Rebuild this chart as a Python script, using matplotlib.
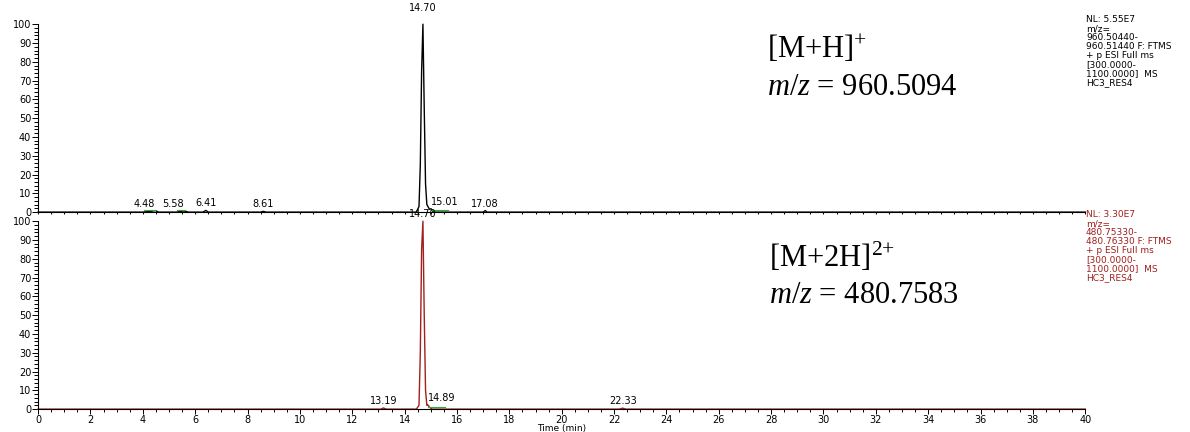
import matplotlib.pyplot as plt
from matplotlib.ticker import MultipleLocator

plt.rcParams["font.family"] = ["DejaVu Sans"]
plt.rcParams["mathtext.fontset"] = "custom"
plt.rcParams["mathtext.rm"] = "Liberation Serif"
plt.rcParams["mathtext.it"] = "Liberation Serif:italic"

# top trace: m/z 960.5094 extracted ion chromatogram
top_time = [0, 4.0, 4.3, 4.48, 4.6, 5.3, 5.45, 5.58, 5.75, 6.3, 6.41, 6.5,
            8.5, 8.61, 8.7, 14.45, 14.55, 14.60, 14.65, 14.70, 14.75, 14.80,
            14.85, 14.95, 15.01, 15.1, 17.0, 17.08, 17.15, 40]
top_int = [0, 0, 0.4, 0.8, 0, 0, 0.4, 0.6, 0, 0, 0.9, 0,
           0, 0.4, 0, 0, 3, 25, 75, 100, 55, 15,
           4, 1.5, 1.8, 0, 0, 0.8, 0, 0]

# bottom trace: m/z 480.7583
bot_time = [0, 13.1, 13.19, 13.3, 14.45, 14.55, 14.60, 14.65, 14.70, 14.75,
            14.80, 14.85, 14.89, 14.95, 15.05, 22.2, 22.33, 22.45, 40]
bot_int = [0, 0, 0.6, 0, 0, 2, 30, 85, 100, 50,
           10, 2, 2.2, 1, 0, 0, 0.5, 0, 0]

top_labels = ["4.48", "5.58", "6.41", "8.61", "14.70", "15.01", "17.08"]
top_label_t = [4.48, 5.58, 6.41, 8.61, 14.70, 15.01, 17.08]
top_label_h = [0.8, 0.6, 0.9, 0.4, 100, 1.8, 0.8]
top_label_ha = ["right", "right", "center", "center", "center", "left", "center"]
top_green = [(4.03, 4.48), (5.3, 5.6), (15.01, 15.65)]

bot_labels = ["13.19", "14.70", "14.89", "22.33"]
bot_label_t = [13.19, 14.70, 14.89, 22.33]
bot_label_h = [0.6, 100, 2.2, 0.5]
bot_label_ha = ["center", "center", "left", "center"]
bot_green = [(14.89, 15.55)]

top_info = "NL: 5.55E7\nm/z=\n960.50440-\n960.51440 F: FTMS\n+ p ESI Full ms\n[300.0000-\n1100.0000]  MS\nHC3_RES4"
bot_info = "NL: 3.30E7\nm/z=\n480.75330-\n480.76330 F: FTMS\n+ p ESI Full ms\n[300.0000-\n1100.0000]  MS\nHC3_RES4"

RED = "#a0201e"

fig = plt.figure(figsize=(11.9, 4.32), dpi=100)
ax1 = fig.add_axes([0.032, 0.509, 0.880, 0.435])
ax2 = fig.add_axes([0.032, 0.053, 0.880, 0.435])


def style(ax, show_x):
    ax.set_xlim(0, 40)
    ax.set_ylim(0, 100)
    for s in ["top", "right"]:
        ax.spines[s].set_visible(False)
    ax.spines["left"].set_linewidth(0.8)
    ax.spines["bottom"].set_linewidth(0.8)
    ax.yaxis.set_major_locator(MultipleLocator(10))
    ax.yaxis.set_minor_locator(MultipleLocator(2))
    ax.xaxis.set_major_locator(MultipleLocator(2))
    ax.xaxis.set_minor_locator(MultipleLocator(0.5))
    ax.tick_params(axis="y", which="major", length=4, width=0.7, labelsize=7, pad=1)
    ax.tick_params(axis="y", which="minor", length=3, width=0.7)
    if show_x:
        ax.tick_params(axis="x", which="major", length=3.5, width=0.7, labelsize=7, pad=1)
        ax.tick_params(axis="x", which="minor", length=2.5, width=0.7)
    else:
        ax.tick_params(axis="x", which="both", length=1.5, width=0.7, labelbottom=False)


style(ax1, False)
style(ax2, True)

ax1.plot(top_time, top_int, color="black", lw=1.0, clip_on=False)
ax2.plot(bot_time, bot_int, color=RED, lw=1.0, clip_on=False)

for ax, labels, ts, hs, has, greens in [
    (ax1, top_labels, top_label_t, top_label_h, top_label_ha, top_green),
    (ax2, bot_labels, bot_label_t, bot_label_h, bot_label_ha, bot_green),
]:
    for lab, t, h, ha in zip(labels, ts, hs, has):
        off = 8 if (ax is ax1 and h >= 100) else 1.5
        ax.annotate(lab, (t, h), xytext=(0, off), textcoords="offset points",
                    ha=ha, va="bottom", fontsize=7, annotation_clip=False)
    for a, b in greens:
        ax.plot([a, b], [1.2, 1.2], color="#33aa33", lw=0.8)

ax2.set_xlabel("Time (min)", fontsize=6.5, labelpad=-1)

fig.text(1086 / 1190, 1 - 15 / 432, top_info, fontsize=6.5, va="top", ha="left",
         linespacing=1.0)
fig.text(1086 / 1190, 1 - 210 / 432, bot_info, fontsize=6.5, va="top", ha="left",
         linespacing=1.0, color=RED)

serif = "Liberation Serif"
fig.text(767 / 1190, 1 - 58 / 432, "[M+H]$^{{+}}$", fontsize=22, family=serif,
         va="baseline")
fig.text(767 / 1190, 1 - 95 / 432, "$m/z$ = 960.5094", fontsize=22, family=serif,
         va="baseline")
fig.text(769 / 1190, 1 - 267 / 432, "[M+2H]$^{2{+}}$", fontsize=22, family=serif,
         va="baseline")
fig.text(769 / 1190, 1 - 303 / 432, "$m/z$ = 480.7583", fontsize=22, family=serif,
         va="baseline")

fig.savefig("out.png", dpi=100)
